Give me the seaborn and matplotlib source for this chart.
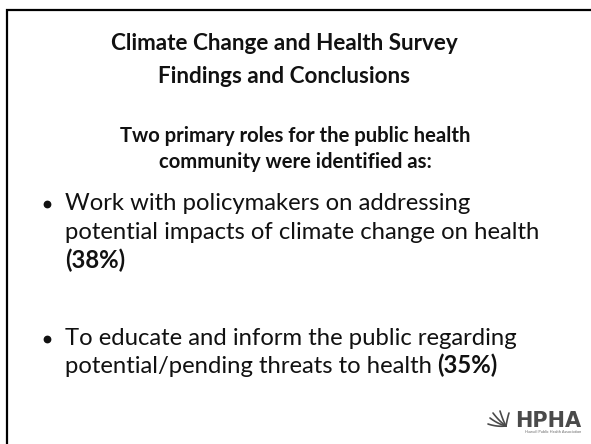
import matplotlib
matplotlib.use("Agg")
import matplotlib.pyplot as plt
import seaborn as sns
import numpy as np

# ---- content ----
title_lines = ["Climate Change and Health Survey", "Findings and Conclusions"]
subtitle_lines = ["Two primary roles for the public health", "community were identified as:"]
bullet1_lines = ["Work with policymakers on addressing",
                 "potential impacts of climate change on health"]
bullet1_pct = "(38%)"
bullet2_lines = ["To educate and inform the public regarding",
                 "potential/pending threats to health"]
bullet2_pct = "(35%)"
logo_text = "HPHA"
logo_sub = "Hawai\u2018i Public Health Association"

sns.set_theme(style="white")
plt.rcParams["font.family"] = ["Lato", "DejaVu Sans"]

W, H = 591, 444
fig = plt.figure(figsize=(W / 100, H / 100), dpi=100)
ax = fig.add_axes([0, 0, 1, 1])
ax.set_xlim(0, W)
ax.set_ylim(H, 0)
ax.axis("off")

# slide frame (left + top)
ax.plot([7, 7, W + 5], [H + 5, 10, 10], color="black", lw=1.6, solid_joinstyle="miter")

TXT = "#111111"
title_fs = 16.2
sub_fs = 14.6
body_fs = 17.2

# title
for y, line in zip([50, 83], title_lines):
    ax.text(284, y, line, ha="center", va="baseline", fontsize=title_fs,
            fontweight="bold", color=TXT)

# subtitle
for y, line in zip([142, 168], subtitle_lines):
    ax.text(295, y, line, ha="center", va="baseline", fontsize=sub_fs,
            fontweight="bold", color=TXT)

fig.canvas.draw()
renderer = fig.canvas.get_renderer()
inv = ax.transData.inverted()

def bullet(ys, lines, pct, pct_newline):
    ax.plot([47], [ys[0] - 6], marker="o", ms=4.6, color=TXT)
    last = None
    for y, line in zip(ys, lines):
        last = ax.text(65, y, line, ha="left", va="baseline", fontsize=body_fs, color=TXT)
    if pct_newline:
        ax.text(65, ys[len(lines)], pct, ha="left", va="baseline", fontsize=body_fs,
                fontweight="bold", color=TXT)
    else:
        bb = last.get_window_extent(renderer=renderer)
        x_end = inv.transform((bb.x1, bb.y0))[0]
        ax.text(x_end + 5, ys[len(lines) - 1], pct, ha="left", va="baseline",
                fontsize=body_fs, fontweight="bold", color=TXT)

bullet([210, 239, 268], bullet1_lines, bullet1_pct, True)
bullet([345, 373], bullet2_lines, bullet2_pct, False)

# logo
ax.text(581, 427, logo_text, ha="right", va="baseline", fontsize=15,
        fontweight="heavy", color="#4a4a4a", family=["DejaVu Sans"])
ax.text(581, 433, logo_sub, ha="right", va="baseline", fontsize=2.8, color="#6a6a6a")
# simple palm fronds
t = np.linspace(0, 1, 20)
for dx, dy in [(-16, -8), (-13, -13), (-6, -15), (3, -13), (-18, -2)]:
    ax.plot(506 + dx * t, 426 + dy * t + 4 * t * (1 - t) * (1 if dx < 0 else -1),
            color="#4a4a4a", lw=1.2)

fig.savefig("out.png", dpi=100)
